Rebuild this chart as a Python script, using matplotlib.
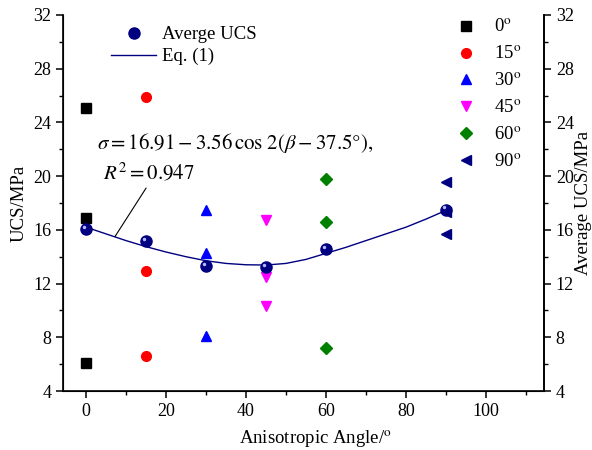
import matplotlib
matplotlib.use('Agg')
import matplotlib.pyplot as plt
from matplotlib.ticker import MultipleLocator
from matplotlib.lines import Line2D

plt.rcParams['font.family'] = ['Liberation Serif', 'DejaVu Serif']
plt.rcParams['mathtext.fontset'] = 'stix'

# measured UCS values for each bedding angle (MPa)
ang_0 = [25.1, 16.9, 6.1]
ang_15 = [25.9, 12.9, 6.6]
ang_30 = [17.5, 14.3, 8.1]
ang_45 = [16.7, 12.5, 10.3]
ang_60 = [19.8, 16.6, 7.2]
ang_90 = [19.6, 17.3, 15.7]

angles = [0, 15, 30, 45, 60, 90]
avg_ucs = [16.05, 15.15, 13.3, 13.2, 14.55, 17.5]

# fitted curve
fit_x = [0, 5, 10, 15, 20, 25, 30, 35, 40, 45, 50, 55, 60, 65, 70, 75, 80, 85, 90]
fit_y = [16.2, 15.7, 15.2, 14.75, 14.35, 14.0, 13.7, 13.5, 13.4, 13.38, 13.5,
         13.8, 14.25, 14.7, 15.2, 15.7, 16.2, 16.8, 17.45]

groups = [
    (ang_0, 0, 's', 'black', '0$^{\\rm o}$'),
    (ang_15, 15, 'o', 'red', '15$^{\\rm o}$'),
    (ang_30, 30, '^', 'blue', '30$^{\\rm o}$'),
    (ang_45, 45, 'v', 'magenta', '45$^{\\rm o}$'),
    (ang_60, 60, 'D', 'green', '60$^{\\rm o}$'),
    (ang_90, 90, '<', 'navy', '90$^{\\rm o}$'),
]

fig = plt.figure(figsize=(5.92, 4.5), dpi=100)
ax = fig.add_axes([0.1064, 0.1311, 0.8125, 0.8356])

handles = []
for vals, a, m, c, lab in groups:
    ms = 6 if m == 'D' else 7
    h, = ax.plot([a] * len(vals), vals, m, color=c, ms=ms, ls='none', label=lab)
    handles.append(h)

line, = ax.plot(fit_x, fit_y, color='navy', lw=1.0)
ax.plot(angles, avg_ucs, 'o', color='navy', ms=8, zorder=5)
ax.plot([a - 0.6 for a in angles], [v + 0.18 for v in avg_ucs], 'o',
        color='#b8b8ff', ms=2.5, mec='none', zorder=6)

ax.set_xlim(-5.75, 114.5)
ax.set_ylim(4, 32)
ax.xaxis.set_major_locator(MultipleLocator(20))
ax.xaxis.set_minor_locator(MultipleLocator(10))
ax.yaxis.set_major_locator(MultipleLocator(4))
ax.yaxis.set_minor_locator(MultipleLocator(2))
ax.spines['top'].set_visible(False)
for s in ['left', 'bottom', 'right']:
    ax.spines[s].set_linewidth(1.2)
ax.tick_params(which='major', direction='out', length=5, width=1.1, labelsize=13)
ax.tick_params(which='minor', direction='out', length=3, width=1.0)
ax.set_xlabel('Anisotropic Angle/$^{\\rm o}$', fontsize=13.5)
ax.xaxis.set_label_coords(0.525, -0.1)
ax.set_ylabel('UCS/MPa', fontsize=13.5, labelpad=4)

ax2 = ax.twinx()
ax2.set_ylim(4, 32)
ax2.yaxis.set_major_locator(MultipleLocator(4))
ax2.yaxis.set_minor_locator(MultipleLocator(2))
ax2.spines['top'].set_visible(False)
ax2.spines['right'].set_linewidth(1.2)
ax2.tick_params(which='major', direction='out', length=5, width=1.1, labelsize=13)
ax2.tick_params(which='minor', direction='out', length=3, width=1.0)
ax2.set_ylabel('Average UCS/MPa', fontsize=13.5, labelpad=1)

ax.text(2.75, 22.45, r'$\sigma = 16.91 - 3.56\,\cos\,2(\beta - 37.5°),$',
        fontsize=15, va='center', ha='left')
ax.text(4.25, 20.25, r'$R^2 = 0.947$', fontsize=15, va='center', ha='left')
ax.plot([15, 7.25], [19.1, 15.5], color='black', lw=0.8)

avg_handle = Line2D([], [], marker='o', color='navy', ms=8, ls='none')
leg1 = ax.legend([avg_handle, line], ['Averge UCS', 'Eq. (1)'],
                 loc='upper left', bbox_to_anchor=(0.065, 1.015), frameon=False,
                 fontsize=13.5, handlelength=2.4, handletextpad=0.3, labelspacing=0.25)
ax.add_artist(leg1)
ax.legend(handles=handles, loc='upper left', bbox_to_anchor=(0.78, 1.035),
          frameon=False, fontsize=13.5, handlelength=1.2, handletextpad=0.9,
          labelspacing=0.5)

fig.savefig('out.png', dpi=100)
